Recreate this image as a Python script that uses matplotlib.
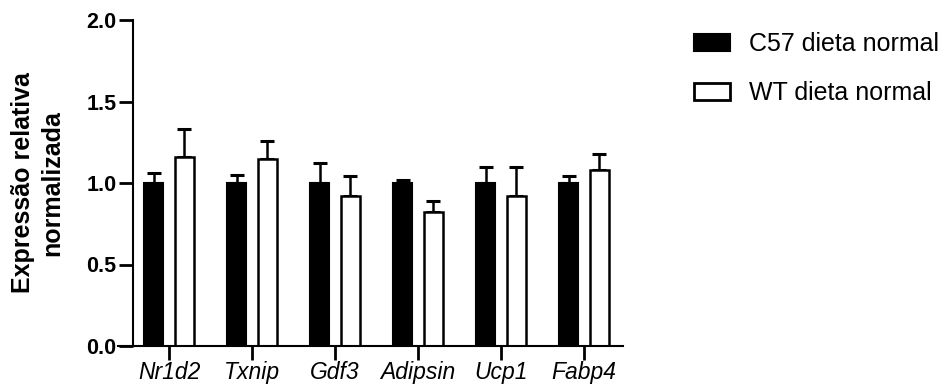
import numpy as np
import matplotlib
matplotlib.use("Agg")
import matplotlib.pyplot as plt
from matplotlib.patches import Patch

plt.rcParams["font.family"] = ["Liberation Sans", "DejaVu Sans"]

genes = ["Nr1d2", "Txnip", "Gdf3", "Adipsin", "Ucp1", "Fabp4"]
c57_mean = [1.00, 1.00, 1.00, 1.00, 1.00, 1.00]
c57_err = [0.06, 0.05, 0.12, 0.02, 0.10, 0.04]
wt_mean = [1.16, 1.15, 0.92, 0.82, 0.92, 1.08]
wt_err = [0.17, 0.11, 0.12, 0.07, 0.18, 0.10]
labels = ["C57 dieta normal", "WT dieta normal"]
yticks = [0.0, 0.5, 1.0, 1.5, 2.0]

fig = plt.figure(figsize=(9.53, 3.90), dpi=100)
ax = fig.add_axes([118 / 953, 1 - 346 / 390, (623 - 118) / 953, (346 - 20) / 390])

x = np.arange(len(genes))
w = 0.235
off = 0.185

ax.bar(x - off, c57_mean, w, color="black", edgecolor="black", linewidth=1.5, zorder=2)
ax.bar(x + off, wt_mean, w, color="white", edgecolor="black", linewidth=1.8, zorder=2)
ax.errorbar(x - off, c57_mean, yerr=[np.zeros(len(genes)), c57_err], fmt="none",
            ecolor="black", elinewidth=1.8, capsize=5, capthick=2.2, zorder=1)
ax.errorbar(x + off, wt_mean, yerr=[np.zeros(len(genes)), wt_err], fmt="none",
            ecolor="black", elinewidth=1.8, capsize=5, capthick=2.2, zorder=1)

ax.set_xlim(-0.615, 5.47)
ax.set_ylim(0, 2.0)
ax.spines["top"].set_visible(False)
ax.spines["right"].set_visible(False)
ax.spines["left"].set_position(("data", -0.43))
ax.spines["left"].set_linewidth(1.5)
ax.spines["bottom"].set_linewidth(1.5)

ax.set_yticks(yticks)
ax.set_yticklabels([f"{v:.1f}" for v in yticks], fontsize=15.5, fontweight="bold")
ax.set_xticks(x)
ax.set_xticklabels(genes, fontsize=16.5, style="italic")
ax.tick_params(axis="y", length=10, width=2, pad=2)
ax.tick_params(axis="x", length=10, width=2, pad=1)

ax.set_ylabel("Expressão relativa\nnormalizada", fontsize=18, fontweight="bold",
              linespacing=1.3)
ax.yaxis.set_label_coords(-0.106, 0.5)

handles = [Patch(facecolor="black", edgecolor="black", linewidth=1.5),
           Patch(facecolor="white", edgecolor="black", linewidth=2)]
fig.legend(handles, labels, loc="upper left", bbox_to_anchor=(684 / 953, 1 - 22 / 390),
           frameon=False, fontsize=18, handlelength=1.45, handleheight=0.65,
           labelspacing=1.0, handletextpad=0.75, borderaxespad=0)

fig.savefig("out.png", dpi=100)
